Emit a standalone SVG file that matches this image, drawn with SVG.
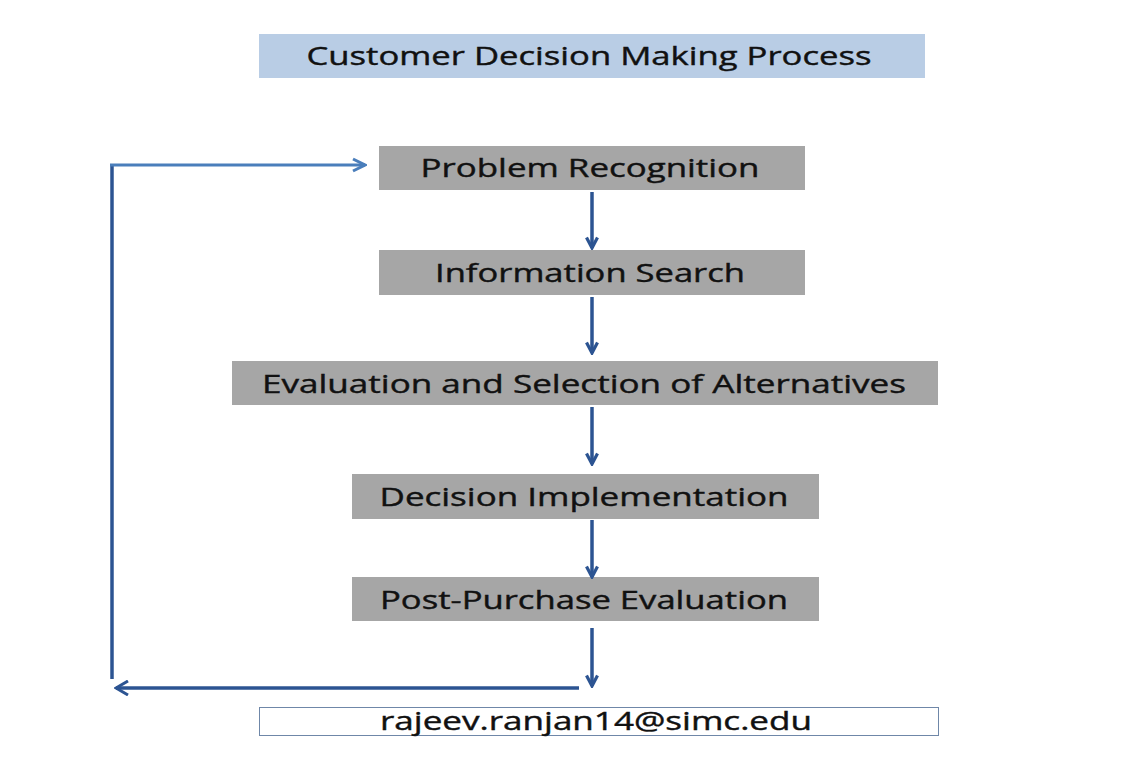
<svg xmlns="http://www.w3.org/2000/svg" width="1139" height="773" viewBox="0 0 1139 773">
<defs>
<style>
.box{fill:#a6a6a6}
.t{font-family:"Open Sans","Liberation Sans",sans-serif;font-size:25px;fill:#111;stroke:#111;stroke-width:0.4;text-anchor:middle}
.c{stroke:#2c5492;stroke-width:3.5;fill:none}
</style>
<marker id="ah" viewBox="0 0 14 14" refX="12" refY="7" markerWidth="14" markerHeight="14" markerUnits="userSpaceOnUse" orient="auto">
<path d="M1.5,1.5 L12,7 L1.5,12.5" fill="none" stroke="#2c5492" stroke-width="3.2"/>
</marker>
<marker id="ahd" viewBox="0 0 16 16" refX="14" refY="8" markerWidth="16" markerHeight="16" markerUnits="userSpaceOnUse" orient="auto">
<path d="M2,1 L14,8 L2,15" fill="none" stroke="#2c5492" stroke-width="3"/>
</marker>
<marker id="ahl" viewBox="0 0 16 16" refX="14" refY="8" markerWidth="16" markerHeight="16" markerUnits="userSpaceOnUse" orient="auto">
<path d="M2,2 L14,8 L2,14" fill="none" stroke="#4a7ebb" stroke-width="3"/>
</marker>
</defs>
<rect width="1139" height="773" fill="#fff"/>
<g id="title">
<rect x="259" y="34" width="666" height="44" fill="#b9cde5"/>
<text class="t" x="589" y="65" textLength="565" lengthAdjust="spacingAndGlyphs">Customer Decision Making Process</text>
</g>
<g id="n1">
<rect class="box" x="379" y="146" width="426" height="44"/>
<text class="t" x="590" y="177" textLength="339" lengthAdjust="spacingAndGlyphs">Problem Recognition</text>
</g>
<g id="n2">
<rect class="box" x="379" y="250" width="426" height="45"/>
<text class="t" x="590" y="282" textLength="310" lengthAdjust="spacingAndGlyphs">Information Search</text>
</g>
<g id="n3">
<rect class="box" x="232" y="361" width="706" height="44"/>
<text class="t" x="584" y="393" textLength="644" lengthAdjust="spacingAndGlyphs">Evaluation and Selection of Alternatives</text>
</g>
<g id="n4">
<rect class="box" x="352" y="474" width="467" height="45"/>
<text class="t" x="584" y="506" textLength="409" lengthAdjust="spacingAndGlyphs">Decision Implementation</text>
</g>
<g id="n5">
<rect class="box" x="352" y="577" width="467" height="44"/>
<text class="t" x="584" y="609" textLength="408" lengthAdjust="spacingAndGlyphs">Post-Purchase Evaluation</text>
</g>
<g id="email">
<rect x="259.5" y="707.5" width="679" height="28" fill="#fff" stroke="#6f87a8" stroke-width="1"/>
<text class="t" x="596" y="730" textLength="432" lengthAdjust="spacingAndGlyphs">rajeev.ranjan14@simc.edu</text>
</g>
<g id="connectors">
<line class="c" x1="592" y1="192" x2="592" y2="248" marker-end="url(#ah)"/>
<line class="c" x1="592" y1="297" x2="592" y2="353" marker-end="url(#ah)"/>
<line class="c" x1="592" y1="407" x2="592" y2="464" marker-end="url(#ah)"/>
<line class="c" x1="592" y1="520" x2="592" y2="577" marker-end="url(#ah)"/>
<line class="c" x1="592" y1="628" x2="592" y2="686" marker-end="url(#ah)"/>
<line class="c" x1="579" y1="688" x2="116" y2="688" stroke-width="3" marker-end="url(#ahd)"/>
<line class="c" x1="112" y1="679" x2="112" y2="164" stroke-width="4"/>
<line x1="110" y1="165" x2="365" y2="165" stroke="#4a7ebb" stroke-width="3" marker-end="url(#ahl)"/>
</g>
</svg>
